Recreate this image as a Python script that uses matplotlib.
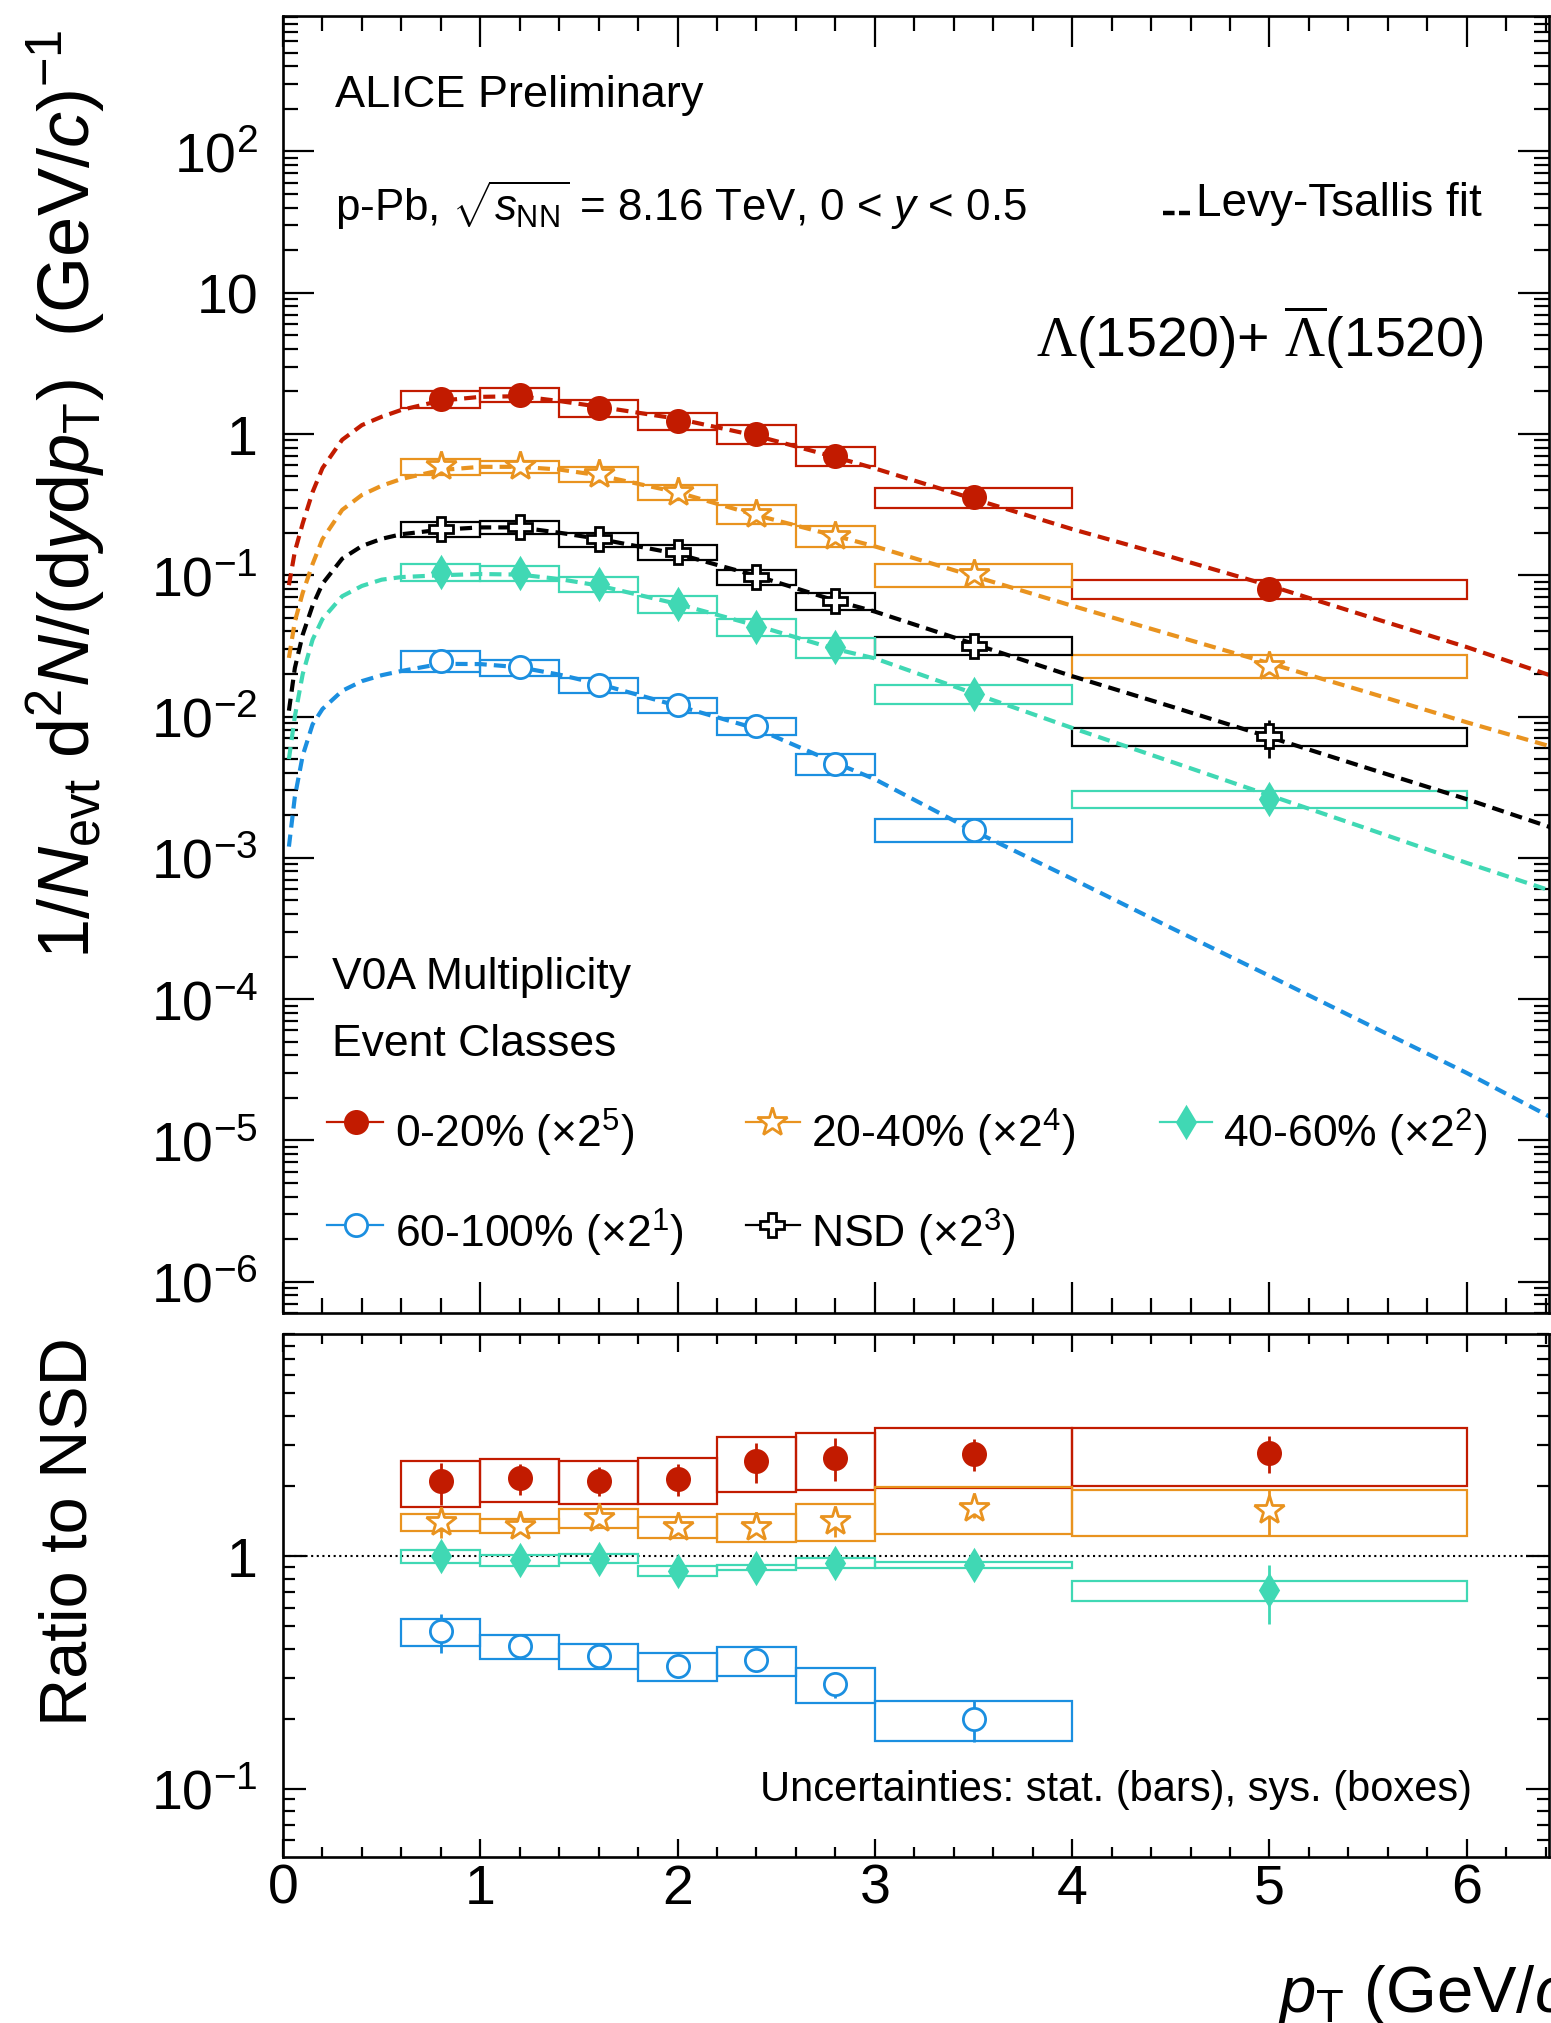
import numpy as np
import matplotlib
matplotlib.use("Agg")
import matplotlib.pyplot as plt
from matplotlib.patches import Rectangle
from matplotlib.lines import Line2D
from matplotlib.ticker import LogLocator, MultipleLocator, FuncFormatter, NullFormatter

plt.rcParams.update({
    "font.family": ["Liberation Sans", "DejaVu Sans"],
    "mathtext.fontset": "custom",
    "mathtext.rm": "Liberation Sans",
    "mathtext.it": "Liberation Sans:italic",
    "mathtext.bf": "Liberation Sans:bold",
    "mathtext.cal": "Liberation Serif",
})

W, H = 1551, 2024

# --- data ---
PT = [0.8, 1.2, 1.6, 2.0, 2.4, 2.8, 3.5, 5.0]
PT_LO = [0.6, 1.0, 1.4, 1.8, 2.2, 2.6, 3.0, 4.0]
PT_HI = [1.0, 1.4, 1.8, 2.2, 2.6, 3.0, 4.0, 6.0]

# spectra (already scaled by 2^n)
Y_0_20 = [1.77, 1.89, 1.52, 1.24, 1.00, 0.703, 0.356, 0.080]
SYS_0_20 = [0.24, 0.21, 0.21, 0.17, 0.15, 0.108, 0.058, 0.012]
STAT_0_20 = [0.06, 0.06, 0.05, 0.04, 0.04, 0.03, 0.02, 0.006]

Y_20_40 = [0.59, 0.59, 0.521, 0.386, 0.272, 0.191, 0.102, 0.0229]
SYS_20_40 = [0.075, 0.058, 0.061, 0.048, 0.040, 0.032, 0.019, 0.0042]
STAT_20_40 = [0.03, 0.03, 0.025, 0.02, 0.015, 0.01, 0.008, 0.003]

Y_40_60 = [0.105, 0.104, 0.0868, 0.0626, 0.0429, 0.0309, 0.0145, 0.00261]
SYS_40_60 = [0.0142, 0.0126, 0.0106, 0.0086, 0.0059, 0.0048, 0.0022, 0.00037]
STAT_40_60 = [0.006, 0.006, 0.005, 0.004, 0.003, 0.002, 0.0012, 0.0003]

Y_60_100 = [0.0249, 0.0223, 0.0167, 0.0121, 0.00863, 0.00462, 0.00158]
SYS_60_100 = [0.0044, 0.0028, 0.0021, 0.0015, 0.0012, 0.00078, 0.00029]
STAT_60_100 = [0.0015, 0.0012, 0.001, 0.0008, 0.0006, 0.0004, 0.00015]

Y_NSD = [0.213, 0.219, 0.179, 0.146, 0.0968, 0.066, 0.0318, 0.00725]
SYS_NSD = [0.027, 0.022, 0.0205, 0.017, 0.0117, 0.009, 0.0047, 0.00104]
STAT_NSD = [0.008, 0.008, 0.007, 0.006, 0.004, 0.003, 0.002, 0.0022]

# Levy-Tsallis fit curves, sampled from the figure
FIT_PT = [0.03, 0.06, 0.1, 0.15, 0.2, 0.3, 0.4, 0.5, 0.6, 0.8, 1.0, 1.2, 1.4,
          1.6, 2.0, 2.4, 2.8, 3.0, 3.5, 4.0, 4.5, 5.0, 5.5, 6.0, 6.45]
FIT_0_20 = [0.085, 0.147, 0.233, 0.388, 0.573, 0.909, 1.155, 1.323, 1.479, 1.72,
            1.83, 1.85, 1.71, 1.56, 1.28, 0.97, 0.685, 0.57, 0.347, 0.212,
            0.135, 0.0845, 0.051, 0.031, 0.019]
FIT_20_40 = [0.026, 0.047, 0.075, 0.12, 0.18, 0.29, 0.37, 0.43, 0.48, 0.555,
             0.585, 0.585, 0.56, 0.51, 0.386, 0.266, 0.19, 0.16, 0.0986, 0.0608,
             0.038, 0.0238, 0.0148, 0.0091, 0.006]
FIT_40_60 = [0.005, 0.010, 0.020, 0.035, 0.049, 0.071, 0.084, 0.093, 0.097, 0.1,
             0.102, 0.101, 0.094, 0.0845, 0.0626, 0.044, 0.030, 0.0258, 0.0146,
             0.0083, 0.0048, 0.00277, 0.0016, 0.00092, 0.00057]
FIT_60_100 = [0.0012, 0.0027, 0.0053, 0.0088, 0.0113, 0.0152, 0.0178, 0.0196,
              0.021, 0.0236, 0.0235, 0.0223, 0.0198, 0.017, 0.0119, 0.0082,
              0.0047, 0.0036, 0.00155, 0.00071, 0.00032, 0.000146, 0.000066,
              0.00003, 0.000014]
FIT_NSD = [0.011, 0.022, 0.038, 0.061, 0.087, 0.131, 0.161, 0.181, 0.195, 0.21,
           0.218, 0.218, 0.2, 0.181, 0.1415, 0.099, 0.066, 0.0553, 0.0327,
           0.0193, 0.0118, 0.00715, 0.0043, 0.0026, 0.0016]

# ratios to NSD
R_0_20 = [2.09, 2.16, 2.11, 2.15, 2.56, 2.65, 2.75, 2.77]
RSYS_0_20 = [0.46, 0.45, 0.44, 0.475, 0.68, 0.735, 0.785, 0.78]
RSTAT_0_20 = [0.43, 0.33, 0.30, 0.34, 0.50, 0.56, 0.43, 0.50]

R_20_40 = [1.40, 1.35, 1.455, 1.33, 1.33, 1.41, 1.61, 1.57]
RSYS_20_40 = [0.12, 0.095, 0.14, 0.135, 0.18, 0.255, 0.37, 0.35]
RSTAT_20_40 = [0.2, 0.08, 0.1, 0.08, 0.08, 0.2, 0.15, 0.35]

R_40_60 = [1.0, 0.957, 0.974, 0.862, 0.891, 0.933, 0.911, 0.711]
RSYS_40_60 = [0.064, 0.053, 0.043, 0.04, 0.021, 0.043, 0.027, 0.07]
RSTAT_40_60 = [0.06, 0.04, 0.04, 0.04, 0.04, 0.04, 0.04, 0.2]

R_60_100 = [0.474, 0.409, 0.372, 0.337, 0.356, 0.281, 0.1985]
RSYS_60_100 = [0.064, 0.05, 0.046, 0.047, 0.052, 0.048, 0.039]
RSTAT_60_100 = [0.09, 0.03, 0.02, 0.02, 0.03, 0.035, 0.04]

RED = "#C21B00"
ORANGE = "#E9931F"
TEAL = "#40D8B4"
BLUE = "#1B8FE0"
BLACK = "#000000"

STYLES = {
    "0-20": dict(color=RED, marker="o", ms=16, mfc=RED),
    "20-40": dict(color=ORANGE, marker="*", ms=22, mfc="white"),
    "40-60": dict(color=TEAL, marker="d", ms=15, mfc=TEAL),
    "60-100": dict(color=BLUE, marker="o", ms=16, mfc="white"),
    "NSD": dict(color=BLACK, marker="P", ms=17, mfc="white"),
}


def draw_series(ax, y, sys, stat, st):
    n = len(y)
    c = st["color"]
    for lo, hi, v, s in zip(PT_LO[:n], PT_HI[:n], y, sys):
        ax.add_patch(Rectangle((lo, v - s), hi - lo, 2 * s, fill=False,
                               ec=c, lw=1.6, zorder=1.5))
    ax.errorbar(PT[:n], y, yerr=stat, fmt="none", ecolor=c, elinewidth=2.0,
                capsize=0, zorder=3)
    ax.plot(PT[:n], y, ls="none", marker=st["marker"], ms=st["ms"],
            mfc=st["mfc"], mec=c, mew=2.0, zorder=4)


def log_fmt(v, pos):
    e = int(round(np.log10(v)))
    if e == 0:
        return "1"
    if e == 1:
        return "10"
    return r"$10^{%d}$" % e


def style_axes(ax, xmaj, xmin, ymaj, ymin):
    ax.set_xlim(0, 6.417)
    ax.set_yscale("log")
    ax.xaxis.set_major_locator(MultipleLocator(1))
    ax.xaxis.set_minor_locator(MultipleLocator(0.2))
    ax.yaxis.set_major_locator(LogLocator(base=10, numticks=30))
    ax.yaxis.set_minor_locator(LogLocator(base=10, subs=np.arange(2, 10), numticks=30))
    ax.yaxis.set_major_formatter(FuncFormatter(log_fmt))
    ax.yaxis.set_minor_formatter(NullFormatter())
    ax.tick_params(which="both", direction="in", top=True, right=True, width=1.6)
    ax.tick_params(axis="x", which="major", length=xmaj)
    ax.tick_params(axis="x", which="minor", length=xmin)
    ax.tick_params(axis="y", which="major", length=ymaj, pad=18, labelsize=40)
    ax.tick_params(axis="y", which="minor", length=ymin)
    for sp in ax.spines.values():
        sp.set_linewidth(1.9)


fig = plt.figure(figsize=(W / 100, H / 100), dpi=100)
ax1 = fig.add_axes([283 / W, 1 - 1314 / H, (1549 - 283) / W, (1314 - 17) / H])
ax2 = fig.add_axes([283 / W, 1 - 1858 / H, (1549 - 283) / W, (1858 - 1335) / H])

# --- top panel: spectra ---
fits = [(FIT_0_20, RED), (FIT_20_40, ORANGE), (FIT_NSD, BLACK),
        (FIT_40_60, TEAL), (FIT_60_100, BLUE)]
for f, c in fits:
    ax1.plot(FIT_PT, f, color=c, lw=3.0, dashes=(2.9, 1.7), zorder=2)

draw_series(ax1, Y_0_20, SYS_0_20, STAT_0_20, STYLES["0-20"])
draw_series(ax1, Y_20_40, SYS_20_40, STAT_20_40, STYLES["20-40"])
draw_series(ax1, Y_NSD, SYS_NSD, STAT_NSD, STYLES["NSD"])
draw_series(ax1, Y_40_60, SYS_40_60, STAT_40_60, STYLES["40-60"])
draw_series(ax1, Y_60_100, SYS_60_100, STAT_60_100, STYLES["60-100"])

style_axes(ax1, 22, 11, 22, 11)
ax1.set_ylim(6.0e-7, 908)
ax1.tick_params(labelbottom=False)

# --- bottom panel: ratios ---
ax2.axhline(1.0, color="black", lw=1.5, ls=(0, (1, 1.7)), zorder=1)
draw_series(ax2, R_0_20, RSYS_0_20, RSTAT_0_20, STYLES["0-20"])
draw_series(ax2, R_20_40, RSYS_20_40, RSTAT_20_40, STYLES["20-40"])
draw_series(ax2, R_40_60, RSYS_40_60, RSTAT_40_60, STYLES["40-60"])
draw_series(ax2, R_60_100, RSYS_60_100, RSTAT_60_100, STYLES["60-100"])

style_axes(ax2, 13, 7, 16.5, 8.6)
ax2.set_ylim(0.0508, 9.0)
ax2.tick_params(axis="x", which="major", labelsize=40, pad=4)


def ftext(x, y, s, **kw):
    return fig.text(x / W, 1 - y / H, s, **kw)


# axis titles
ftext(89, 30, r"1/$N_{\rm evt}$ d$^{2}$$N$/(d$y$d$p_{\rm T}$)  (GeV/$c$)$^{-1}$",
      rotation=90, rotation_mode="anchor", ha="right", va="baseline", fontsize=52)
ftext(87, 1337, "Ratio to NSD", rotation=90, rotation_mode="anchor",
      ha="right", va="baseline", fontsize=48)
ftext(1278, 2012, r"$p_{\rm T}$ (GeV/$c$)", ha="left", va="baseline", fontsize=47)

# annotations
ftext(335, 107, "ALICE Preliminary", va="baseline", fontsize=32.5)
ftext(335, 221, r"p-Pb, $\sqrt{s_{\rm NN}}$ = 8.16 TeV, 0 < $y$ < 0.5",
      va="baseline", fontsize=31.6)
ftext(1196, 216, "Levy-Tsallis fit", ha="left", va="baseline", fontsize=33)
fig.add_artist(Line2D([1163 / W, 1190 / W], [1 - 214 / H, 1 - 214 / H], color="black",
                      lw=3.2, dashes=(2.6, 1.0), transform=fig.transFigure))
ftext(1484, 357, r"$\mathcal{\Lambda}$(1520)+ $\overline{\mathcal{\Lambda}}$(1520)",
      ha="right", va="baseline", fontsize=40)
ftext(332, 989, "V0A Multiplicity", va="baseline", fontsize=32)
ftext(332, 1056, "Event Classes", va="baseline", fontsize=32)
ftext(1472, 1801, "Uncertainties: stat. (bars), sys. (boxes)", ha="right",
      va="baseline", fontsize=30)

# legend
LEG_LABELS = {
    "0-20": r"0-20% ($\times2^{5}$)",
    "20-40": r"20-40% ($\times2^{4}$)",
    "40-60": r"40-60% ($\times2^{2}$)",
    "60-100": r"60-100% ($\times2^{1}$)",
    "NSD": r"NSD ($\times2^{3}$)",
}
cols = [(327, 356, 383, 395), (746, 772, 800, 811), (1160, 1186, 1212, 1223)]
rows = [(1123, 1148), (1226, 1248)]
slots = {"0-20": (0, 0), "20-40": (1, 0), "40-60": (2, 0), "60-100": (0, 1), "NSD": (1, 1)}
for key, (ci, ri) in slots.items():
    x0, xm, x1, xt = cols[ci]
    ym, yb = rows[ri]
    st = STYLES[key]
    fy = 1 - ym / H
    fig.add_artist(Line2D([x0 / W, x1 / W], [fy, fy], color=st["color"], lw=1.6,
                          transform=fig.transFigure))
    fig.add_artist(Line2D([xm / W], [fy], ls="none", marker=st["marker"], ms=st["ms"],
                          mfc=st["mfc"], mec=st["color"], mew=2.0,
                          transform=fig.transFigure))
    ftext(xt, yb, LEG_LABELS[key], va="baseline", fontsize=32)

fig.savefig("out.png", dpi=100)
